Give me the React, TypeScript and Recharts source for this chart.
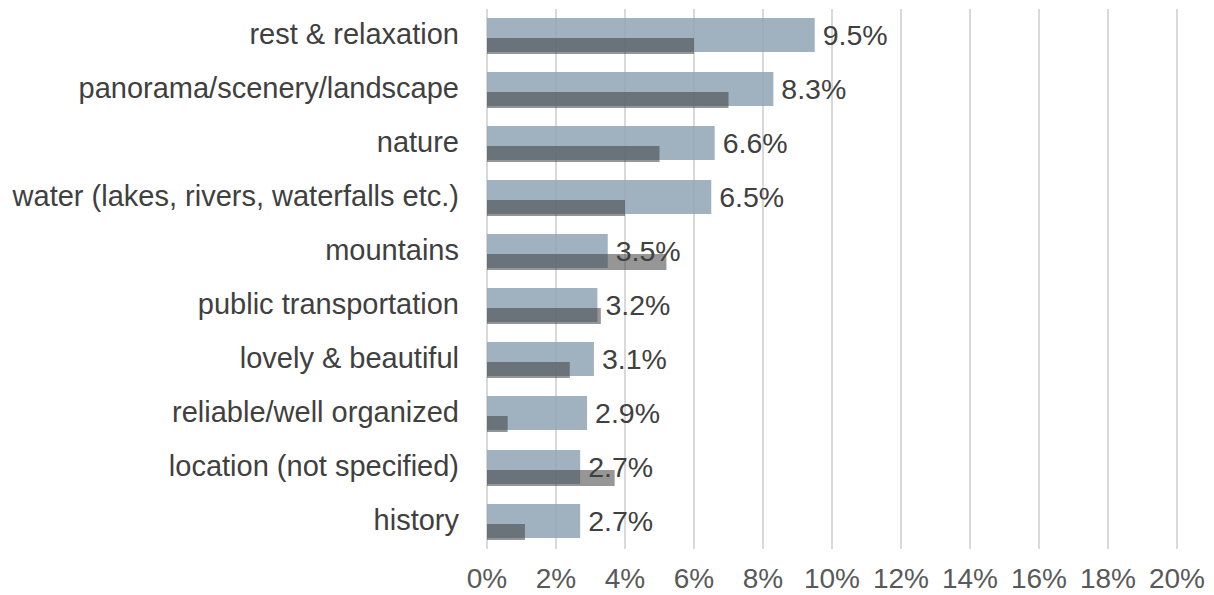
import React from 'react';
import { BarChart, Bar, XAxis, YAxis, CartesianGrid, LabelList } from 'recharts';

const categories = [
  'rest & relaxation',
  'panorama/scenery/landscape',
  'nature',
  'water (lakes, rivers, waterfalls etc.)',
  'mountains',
  'public transportation',
  'lovely & beautiful',
  'reliable/well organized',
  'location (not specified)',
  'history',
];
const lightValues = [9.5, 8.3, 6.6, 6.5, 3.5, 3.2, 3.1, 2.9, 2.7, 2.7];
const darkValues = [6.0, 7.0, 5.0, 4.0, 5.2, 3.3, 2.4, 0.6, 3.7, 1.1];
const xTicks = [0, 2, 4, 6, 8, 10, 12, 14, 16, 18, 20];

const data = categories.map((name, i) => ({ name, light: lightValues[i], dark: darkValues[i] }));

const FONT = '"Liberation Sans", Arial, Helvetica, sans-serif';

export default function App() {
  return (
    <div style={{ position: 'absolute', left: 0, top: 0, background: '#fff' }}>
      <BarChart
        width={1214}
        height={595}
        data={data}
        layout="vertical"
        barGap={-14}
        margin={{ top: 9, right: 37, bottom: 0, left: 0 }}
      >
        <CartesianGrid horizontal={false} vertical={true} stroke="#D9D9D9" strokeWidth={2} />
        <XAxis
          type="number"
          domain={[0, 20]}
          ticks={xTicks}
          interval={0}
          tickFormatter={(v: number) => `${v}%`}
          axisLine={false}
          tickLine={false}
          tickMargin={13}
          height={46}
          tick={{ fill: '#595959', fontSize: 28, fontFamily: FONT }}
        />
        <YAxis
          type="category"
          dataKey="name"
          width={487}
          axisLine={false}
          tickLine={false}
          tickMargin={22}
          interval={0}
          tick={{ fill: '#404040', fontSize: 29, fontFamily: FONT, dy: -2 }}
        />
        <Bar dataKey="light" barSize={34} fill="#8FA4B5" fillOpacity={0.85} isAnimationActive={false}>
          <LabelList
            dataKey="light"
            position="right"
            offset={8}
            formatter={(v: number) => `${v.toFixed(1)}%`}
            style={{ fill: '#404040', fontSize: 28.5, fontFamily: FONT }}
          />
        </Bar>
        <Bar dataKey="dark" barSize={16} fill="#404040" fillOpacity={0.55} isAnimationActive={false} />
      </BarChart>
    </div>
  );
}
